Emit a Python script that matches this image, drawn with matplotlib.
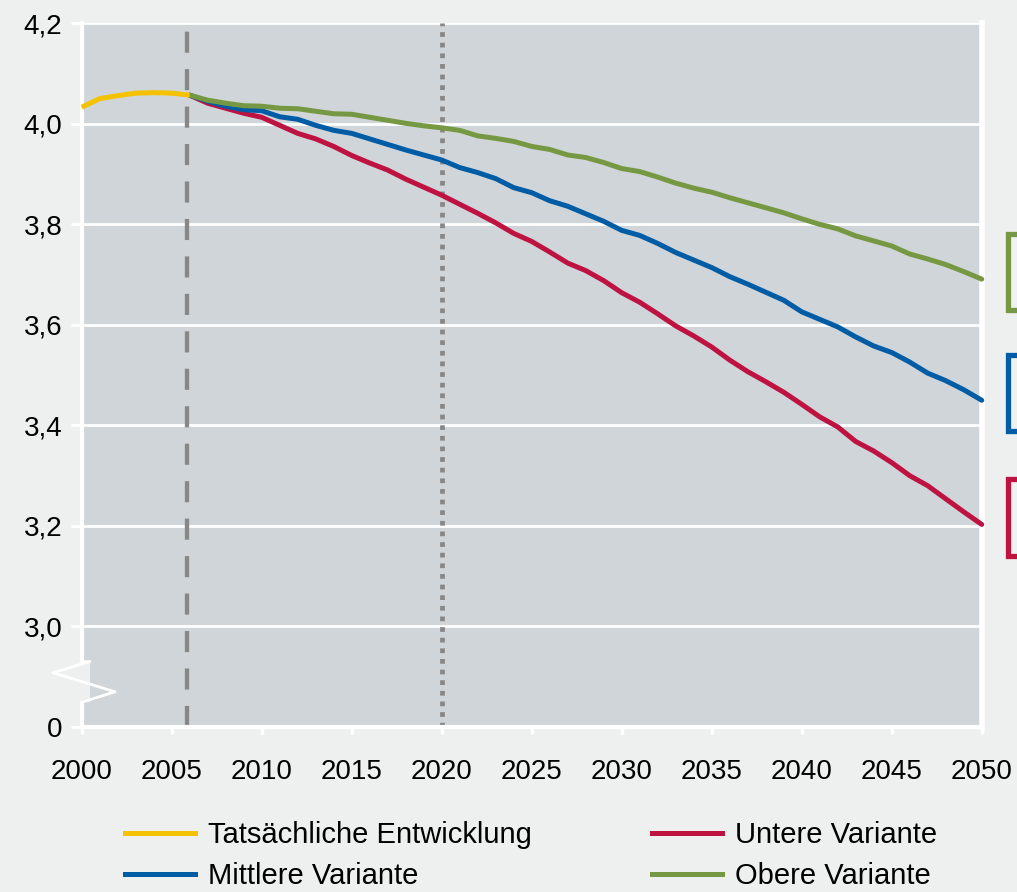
import matplotlib
matplotlib.use("Agg")
import matplotlib.pyplot as plt
import matplotlib.transforms as mtransforms
from matplotlib.patches import Rectangle
from matplotlib.lines import Line2D

plt.rcParams['font.family'] = ['Liberation Sans', 'DejaVu Sans']

# --- data -------------------------------------------------------------
years_actual = [2000, 2001, 2002, 2003, 2004, 2005, 2006]
actual = [4.033, 4.050, 4.056, 4.061, 4.062, 4.061, 4.057]

years_proj = list(range(2006, 2051))
upper = [4.057, 4.047, 4.041, 4.036, 4.035, 4.031, 4.030, 4.025, 4.020, 4.019,
         4.013, 4.007, 4.001, 3.996, 3.992, 3.987, 3.976, 3.971, 3.965, 3.955,
         3.949, 3.938, 3.933, 3.923, 3.911, 3.905, 3.894, 3.882, 3.872, 3.864,
         3.853, 3.843, 3.833, 3.823, 3.811, 3.800, 3.791, 3.777, 3.767, 3.757,
         3.741, 3.731, 3.720, 3.706, 3.691]
middle = [4.057, 4.045, 4.035, 4.028, 4.026, 4.014, 4.009, 3.997, 3.987, 3.981,
          3.970, 3.959, 3.948, 3.938, 3.928, 3.913, 3.903, 3.891, 3.873, 3.863,
          3.847, 3.836, 3.821, 3.806, 3.788, 3.778, 3.762, 3.744, 3.729, 3.714,
          3.696, 3.681, 3.665, 3.649, 3.626, 3.611, 3.596, 3.576, 3.558, 3.545,
          3.526, 3.504, 3.489, 3.471, 3.450]
lower = [4.057, 4.041, 4.031, 4.021, 4.013, 3.997, 3.981, 3.970, 3.955, 3.937,
         3.922, 3.908, 3.890, 3.874, 3.858, 3.840, 3.822, 3.803, 3.782, 3.766,
         3.745, 3.723, 3.708, 3.688, 3.664, 3.645, 3.622, 3.598, 3.578, 3.556,
         3.530, 3.507, 3.487, 3.466, 3.442, 3.417, 3.397, 3.368, 3.349, 3.326,
         3.300, 3.280, 3.254, 3.228, 3.203]

labels = ['Tatsächliche Entwicklung', 'Mittlere Variante',
          'Untere Variante', 'Obere Variante']

x_ticks = list(range(2000, 2051, 5))
# broken axis: the value 0 is drawn one step below 3,0
y_ticks = [2.8, 3.0, 3.2, 3.4, 3.6, 3.8, 4.0, 4.2]
y_ticklabels = ['0', '3,0', '3,2', '3,4', '3,6', '3,8', '4,0', '4,2']

# --- colours ----------------------------------------------------------
c_bg = '#EEEFEF'
c_plot = '#D0D5D9'
c_yellow = '#F5C200'
c_blue = '#005CA5'
c_red = '#BE1241'
c_green = '#779842'
c_ref = '#878787'

fig = plt.figure(figsize=(10.17, 8.92), dpi=100, facecolor=c_bg)
ax = fig.add_axes([0.0803, 0.185, 0.8850, 0.7889])
ax.set_facecolor(c_plot)

ax.set_xlim(2000, 2050)
ax.set_ylim(2.8, 4.2)

# grid and spines in white
ax.set_yticks(y_ticks)
ax.set_yticklabels(y_ticklabels)
ax.set_xticks(x_ticks)
ax.grid(axis='y', color='white', linewidth=2.0, zorder=1)
ax.set_axisbelow(True)
for side in ['left', 'bottom', 'right']:
    ax.spines[side].set_color('white')
    ax.spines[side].set_linewidth(3.0)
ax.spines['right'].set_linewidth(4.0)
ax.spines['top'].set_visible(False)
ax.tick_params(axis='y', colors='white', labelcolor='black', length=8,
               width=2.0, pad=6, labelsize=20)
ax.tick_params(axis='x', colors='white', labelcolor='black', length=5,
               width=2.5, pad=18, labelsize=20)

# reference lines
ax.axvline(2005.85, color=c_ref, linewidth=3.1, linestyle=(0, (4.9, 3.8)),
           zorder=2)
ax.axvline(2020, color=c_ref, linewidth=3.4, linestyle=(0, (1, 1.25)),
           dash_capstyle='butt', zorder=2)

# series
lw = 3.6
ax.plot(years_proj, lower, color=c_red, linewidth=lw, zorder=3,
        solid_capstyle='round', clip_on=False)
ax.plot(years_proj, middle, color=c_blue, linewidth=lw, zorder=4,
        solid_capstyle='round', clip_on=False)
ax.plot(years_proj, upper, color=c_green, linewidth=lw, zorder=5,
        solid_capstyle='round', clip_on=False)
ax.plot(years_actual, actual, color=c_yellow, linewidth=lw, zorder=6,
        solid_capstyle='butt', clip_on=False)

# axis break on the left
ax.add_patch(Rectangle((1999.85, 2.849), 0.61, 0.081, facecolor=c_bg,
                       edgecolor='none', clip_on=False, zorder=7))
ax.plot([2000.0, 2000.46, 1998.4, 2001.85, 2000.0],
        [2.930, 2.930, 2.908, 2.870, 2.849],
        color='white', linewidth=2.0, clip_on=False, zorder=8)

# cut-off label boxes at the right, centred near the series end values
trans = mtransforms.blended_transform_factory(fig.transFigure, ax.transData)
box_h = 0.152
for series, col in [(upper, c_green), (middle, c_blue), (lower, c_red)]:
    yc = series[-1] + 0.014
    fig.patches.append(Rectangle((1008.0 / 1017, yc - box_h / 2), 0.05, box_h,
                                 transform=trans, facecolor='#F0F1F1',
                                 edgecolor=col, linewidth=3.8, zorder=3))

# legend
handles = [Line2D([], [], color=c_yellow, linewidth=lw),
           Line2D([], [], color=c_blue, linewidth=lw),
           Line2D([], [], color=c_red, linewidth=lw),
           Line2D([], [], color=c_green, linewidth=lw)]
fig.legend(handles, labels, ncol=2, loc='upper left',
           bbox_to_anchor=(0.1229, 0.0792), frameon=False, fontsize=21,
           handlelength=2.4, handletextpad=0.45, columnspacing=4.1,
           labelspacing=0.44, borderpad=0, borderaxespad=0)

fig.savefig('out.png', dpi=100, facecolor=c_bg)
